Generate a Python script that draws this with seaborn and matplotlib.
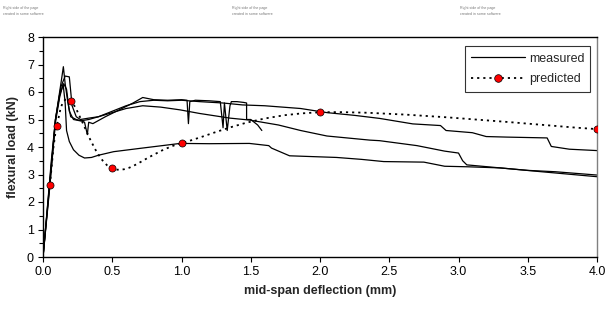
import numpy as np
import pandas as pd
import matplotlib
matplotlib.use("Agg")
import matplotlib.pyplot as plt
from matplotlib.path import Path
from matplotlib.patches import PathPatch
from matplotlib.lines import Line2D
import seaborn as sns

# measured load-deflection curves (four specimens)
m1_x = [0, 0.03, 0.06, 0.09, 0.12, 0.135, 0.147, 0.16, 0.18, 0.20, 0.24, 0.28, 0.30, 0.32, 0.33, 0.36,
        0.45, 0.55, 0.65, 0.72, 0.80, 0.90, 1.00, 1.04, 1.05, 1.06, 1.10, 1.20, 1.28, 1.30, 1.31, 1.33,
        1.35, 1.36, 1.40, 1.45, 1.47, 1.47, 1.50, 1.55, 1.58]
m1_y = [0, 1.7, 3.5, 5.0, 6.0, 6.5, 6.92, 6.3, 5.6, 5.1, 5.0, 4.95, 4.9, 4.45, 4.9, 4.85,
        5.1, 5.35, 5.6, 5.8, 5.72, 5.7, 5.72, 5.7, 4.85, 5.65, 5.7, 5.68, 5.65, 4.7, 5.6, 4.6,
        5.5, 5.65, 5.65, 5.62, 5.6, 5.0, 5.0, 4.8, 4.6]

m2_x = [0, 0.05, 0.09, 0.13, 0.16, 0.19, 0.21, 0.24, 0.27, 0.33, 0.40, 0.50, 0.60, 0.70, 0.80,
        0.90, 1.00, 1.13, 1.30, 1.44, 1.60, 1.86, 2.05, 2.25, 2.43, 2.67, 2.87, 2.91, 3.10, 3.20,
        3.35, 3.64, 3.67, 3.80, 4.00]
m2_y = [0, 2.8, 5.0, 6.2, 6.58, 6.55, 5.5, 5.1, 5.0, 5.05, 5.1, 5.3, 5.5, 5.65, 5.7,
        5.68, 5.7, 5.65, 5.6, 5.53, 5.5, 5.4, 5.25, 5.15, 5.04, 4.84, 4.78, 4.6, 4.52, 4.38,
        4.36, 4.33, 4.02, 3.92, 3.87]

m3_x = [0, 0.05, 0.09, 0.12, 0.15, 0.17, 0.19, 0.22, 0.27, 0.33, 0.40, 0.50, 0.60, 0.72, 0.85,
        0.99, 1.13, 1.35, 1.49, 1.70, 1.86, 2.05, 2.36, 2.43, 2.70, 2.90, 3.00, 3.03, 3.06, 3.30,
        3.50, 3.70, 4.00]
m3_y = [0, 2.7, 5.0, 5.9, 6.3, 6.1, 5.3, 5.0, 4.95, 5.0, 5.1, 5.25, 5.4, 5.5, 5.45,
        5.35, 5.22, 5.05, 4.98, 4.8, 4.6, 4.4, 4.25, 4.23, 4.05, 3.85, 3.78, 3.5, 3.35, 3.24,
        3.15, 3.1, 2.98]

m4_x = [0, 0.05, 0.09, 0.12, 0.145, 0.16, 0.17, 0.19, 0.22, 0.26, 0.30, 0.35, 0.40, 0.51, 0.70,
        0.99, 1.20, 1.49, 1.63, 1.65, 1.78, 1.95, 2.12, 2.30, 2.46, 2.75, 2.90, 3.07, 3.30, 3.60, 4.00]
m4_y = [0, 2.6, 4.9, 5.8, 6.3, 5.6, 4.6, 4.2, 3.9, 3.7, 3.6, 3.62, 3.7, 3.83, 3.95,
        4.13, 4.12, 4.13, 4.05, 3.96, 3.68, 3.65, 3.62, 3.55, 3.47, 3.45, 3.3, 3.28, 3.24, 3.1, 2.92]

# predicted values
pred_x = [0.05, 0.1, 0.2, 0.5, 1.0, 2.0, 4.0]
pred_y = [2.62, 4.78, 5.67, 3.22, 4.14, 5.26, 4.65]

header_lines = ["Right side of the page", "created in some software"]

frames = []
for i, (xs, ys) in enumerate([(m1_x, m1_y), (m2_x, m2_y), (m3_x, m3_y), (m4_x, m4_y)]):
    frames.append(pd.DataFrame({"deflection": xs, "load": ys, "specimen": i}))
df_meas = pd.concat(frames, ignore_index=True)
df_pred = pd.DataFrame({"deflection": pred_x, "load": pred_y})

sns.set_style("ticks")
plt.rcParams["font.family"] = ["Liberation Sans", "DejaVu Sans"]

fig = plt.figure(figsize=(6.05, 3.16), dpi=100)
ax = fig.add_axes([43 / 605, 59 / 316, 554 / 605, 220 / 316])

sns.lineplot(data=df_meas, x="deflection", y="load", units="specimen", estimator=None,
             sort=False, color="black", lw=0.9, ax=ax, legend=False)

# smoothed dotted line through predictions (spreadsheet-style smoothing)
pts = np.column_stack([pred_x, pred_y])
verts = [pts[0]]
codes = [Path.MOVETO]
n = len(pts)
for i in range(n - 1):
    p0 = pts[max(i - 1, 0)]
    p1 = pts[i]
    p2 = pts[i + 1]
    p3 = pts[min(i + 2, n - 1)]
    verts += [p1 + (p2 - p0) / 6, p2 - (p3 - p1) / 6, p2]
    codes += [Path.CURVE4] * 3
ax.add_patch(PathPatch(Path(verts, codes), facecolor="none", edgecolor="black",
                       lw=1.3, linestyle=(0, (1.2, 2.2)), zorder=3))

sns.scatterplot(data=df_pred, x="deflection", y="load", color="red", edgecolor="black",
                linewidth=0.5, s=26, zorder=5, ax=ax, legend=False)

ax.set_xlim(0, 4)
ax.set_ylim(0, 8)
ax.set_xticks(np.arange(0, 4.01, 0.5))
ax.set_xticklabels([f"{v:.1f}" for v in np.arange(0, 4.01, 0.5)])
ax.set_yticks(range(0, 9))
ax.set_yticks(np.arange(0.5, 8, 1.0), minor=True)
ax.tick_params(axis="both", which="both", direction="out", length=3.5, width=0.8,
               labelsize=9, colors="black", pad=3)
ax.tick_params(axis="y", which="minor", length=3)

for side in ["left", "bottom", "top"]:
    ax.spines[side].set_visible(True)
    ax.spines[side].set_color("black")
    ax.spines[side].set_linewidth(1.0)
ax.spines["right"].set_visible(True)
ax.spines["right"].set_color("#808080")
ax.spines["right"].set_linewidth(1.0)

ax.set_xlabel("mid-span deflection (mm)", fontsize=9, fontweight="bold", labelpad=5)
ax.set_ylabel("flexural load (kN)", fontsize=9, fontweight="bold", labelpad=6)

handles = [Line2D([], [], color="black", lw=0.9),
           Line2D([], [], color="black", lw=1.3, linestyle=(0, (1.2, 2.2)),
                  marker="o", markersize=5.5, markerfacecolor="red", markeredgecolor="black",
                  markeredgewidth=0.5)]
leg = ax.legend(handles, ["measured", "predicted"], loc="upper right",
                bbox_to_anchor=(0.995, 0.975), frameon=True, fancybox=False,
                edgecolor="black", fontsize=9, handlelength=4.3, handletextpad=0.3,
                borderpad=0.5, labelspacing=0.7, borderaxespad=0.3)
leg.get_frame().set_linewidth(0.8)

for xpos in [3 / 605, 232 / 605, 460 / 605]:
    fig.text(xpos, 1 - 8 / 316, header_lines[0], fontsize=2.6, color="#777777", va="center")
    fig.text(xpos, 1 - 14 / 316, header_lines[1], fontsize=2.6, color="#777777", va="center")

fig.savefig("out.png", dpi=100, facecolor="white")
